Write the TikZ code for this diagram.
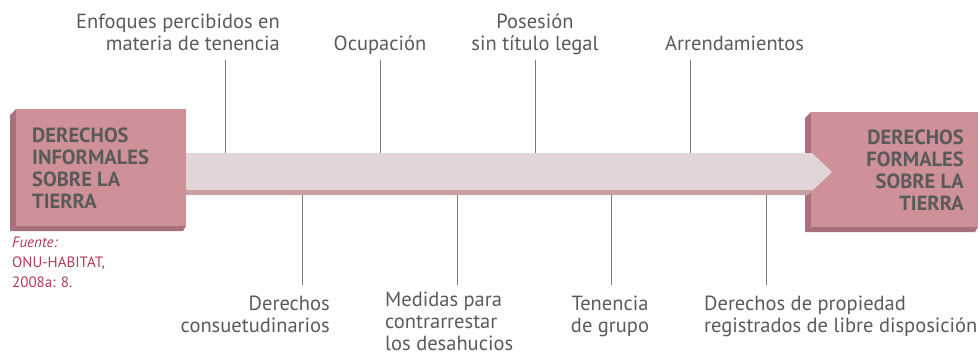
\documentclass[tikz,border=0pt]{standalone}
\usepackage{fontspec}
\setmainfont{PT Sans}
\usetikzlibrary{positioning,calc}
\definecolor{rosa}{HTML}{CD9197}
\definecolor{rosaside}{HTML}{A8707C}
\definecolor{banda}{HTML}{E2D5D8}
\definecolor{bandaside}{HTML}{C9A0A6}
\definecolor{texto}{HTML}{5A5A5A}
\definecolor{fuente}{HTML}{B23A5A}
\begin{document}
\begin{tikzpicture}[x=1pt,y=1pt]
    \tikzstyle{every node}=[inner sep=0,text=texto]
    \tikzstyle{face}=[fill=rosa,draw=none,rectangle]
    \tikzstyle{side}=[fill=rosaside,draw=none]
    \tikzstyle{boxtext}=[font=\bfseries\fontsize{20.5}{22}\selectfont]
    \tikzstyle{label}=[font=\fontsize{20.5}{22}\selectfont]
    \tikzstyle{tick}=[draw=texto!80,line width=0.8]
    \useasboundingbox (0,0) rectangle (980,-354);
    {
        % caja izquierda
        \fill[side] (10,-115) -- (16,-109) -- (16,-226) -- (10,-231) -- cycle;
        \fill[side] (10,-231) -- (16,-226) -- (186,-226) -- (183,-231) -- cycle;
        \node[face,minimum width=170,minimum height=117] (informal) at (101,-167.5) {};
        \node[boxtext,align=left,anchor=base west] (informaltxt) at (32,-208)
            {DERECHOS\\INFORMALES\\SOBRE LA\\TIERRA};

        % caja derecha
        \fill[side] (805,-118) -- (811,-112) -- (811,-227) -- (805,-232) -- cycle;
        \fill[side] (805,-232) -- (811,-227) -- (978,-227) -- (975,-232) -- cycle;
        \node[face,minimum width=167,minimum height=115] (formal) at (894.5,-169.5) {};
        \node[boxtext,align=right,anchor=base east] (formaltxt) at (964,-210)
            {DERECHOS\\FORMALES\\SOBRE LA\\TIERRA};

        % flecha
        \fill[banda] (186,-153) -- (812,-153) -- (832,-172) -- (813,-190) -- (186,-190) -- cycle;
        \fill[bandaside] (186,-190) -- (813,-190) -- (808,-195) -- (186,-195) -- cycle;
        \coordinate (bandtop) at (0,-153);
        \coordinate (bandbot) at (0,-195);

        % etiquetas de arriba
        \node[label,align=right,anchor=base east] (enfoques) at (280,-50)
            {Enfoques percibidos en\\materia de tenencia};
        \node[label,anchor=base] (ocupacion) at (380,-50) {Ocupación};
        \node[label,align=center,anchor=base] (posesion) at (535,-50)
            {Posesión\\sin título legal};
        \node[label,anchor=base west] (arrend) at (665,-50) {Arrendamientos};
        \foreach \x/\n in {225/a,380/b,535/c,690/d} {
            \coordinate (top\n) at (\x,-60);
            \draw[tick] (top\n) -- (top\n |- bandtop);
        }

        % etiquetas de abajo
        \node[label,align=right,anchor=base east] (consuet) at (330,-332)
            {Derechos\\consuetudinarios};
        \node[label,align=left,anchor=base west] (medidas) at (385,-350)
            {Medidas para\\contrarrestar\\los desahucios};
        \node[label,align=center,anchor=base] (tenencia) at (610,-332)
            {Tenencia\\de grupo};
        \node[label,align=left,anchor=base west] (propiedad) at (704,-332)
            {Derechos de propiedad\\registrados de libre disposición};
        \foreach \x/\n in {302/a,457/b,611/c,766/d} {
            \coordinate (bot\n) at (\x,-285);
            \draw[tick] (bot\n |- bandbot) -- (bot\n);
        }

        % fuente
        \node[font=\fontsize{15}{20}\selectfont,text=fuente,align=left,anchor=base west] (fuente) at (12,-287)
            {\textit{Fuente:}\\ONU-HABITAT,\\2008a: 8.};
    }
\end{tikzpicture}
\end{document}
